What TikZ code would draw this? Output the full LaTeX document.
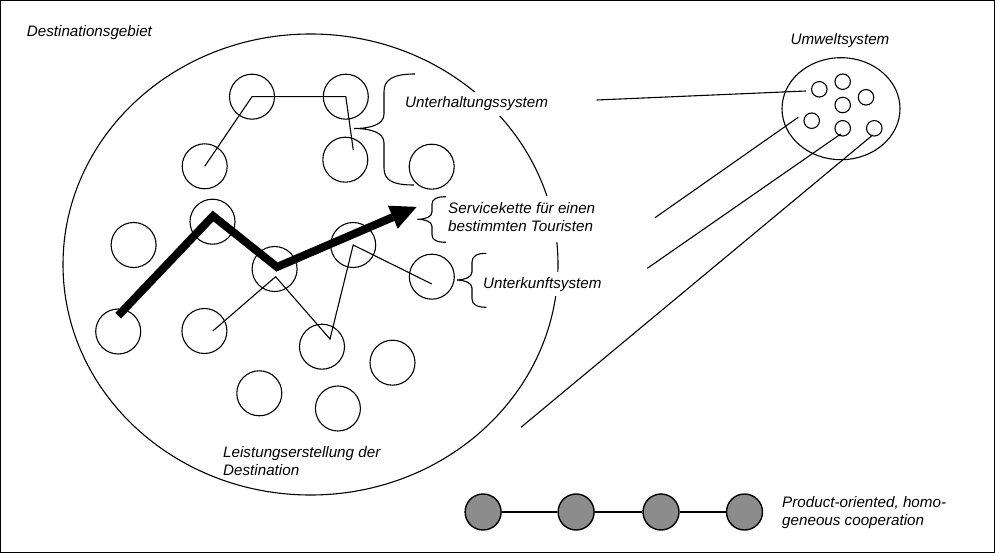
\documentclass[tikz,border=0pt]{standalone}
\usepackage{fontspec}
\setmainfont{Liberation Sans}
\usetikzlibrary{shapes.geometric,calc}
\definecolor{nodegray}{HTML}{8C8C8C}
\begin{document}
\begin{tikzpicture}[x=1pt,y=-1pt,
  txt/.style={font=\fontsize{15.2}{18}\selectfont\itshape, inner sep=0pt, anchor=base west},
  cover/.style={fill=white, inner xsep=0pt, inner ysep=5pt},
  sc/.style={circle, draw, line width=1.1pt, minimum size=45pt, inner sep=0pt},
  uc/.style={circle, draw, line width=1.1pt, minimum size=15.5pt, inner sep=0pt},
  gc/.style={circle, draw, fill=nodegray, line width=1.4pt, minimum size=36pt, inner sep=0pt},
  ln/.style={line width=1.1pt},
  bigell/.style={ellipse, draw, line width=1.1pt, inner sep=0pt},
  bracepath/.style={line width=1.1pt},
  thickarrow/.style={line width=8pt, line join=miter},
]
\useasboundingbox (0,0) rectangle (995,553);
\draw[line width=1.3pt] (0.65,0.65) rectangle (994.35,552.35);

% big destination ellipse
\node[bigell, minimum width=495pt, minimum height=461pt] (dest) at (310.5,264.5) {};
% environment ellipse
\node[bigell, minimum width=118pt, minimum height=102pt] (umw) at (841,108.7) {};

% labels
\node[txt] (lDest) at (26.7,36.7) {Destinationsgebiet};
\node[txt,cover] (lUnt) at (405,108) {Unterhaltungssystem};
\node[txt,cover] (lServ) at (448,214) {\begin{tabular}[t]{@{}l@{}}\itshape Servicekette für einen\\\itshape bestimmten Touristen\end{tabular}};
\node[txt,cover] (lUnk) at (483,288.3) {Unterkunftsystem};
\node[txt] (lLeist) at (223,457) {\begin{tabular}[t]{@{}l@{}}\itshape Leistungserstellung der\\\itshape Destination\end{tabular}};
\node[txt, anchor=base] (lUmw) at (840,44.2) {Umweltsystem};
\node[txt] (lProd) at (782,507.5) {\begin{tabular}[t]{@{}l@{}}\itshape Product-oriented, homo-\\\itshape geneous cooperation\end{tabular}};

% braces
\draw[bracepath] (415,74) .. controls (392,74) and (384,80) .. (384,92) -- (384,114)
  .. controls (384,124) and (372,128.5) .. (354,128.5)
  .. controls (372,128.5) and (384,133) .. (384,143) -- (384,168)
  .. controls (384,180) and (392,185) .. (414,185);
\draw[bracepath] (446,196.7) .. controls (437,196.7) and (432,199) .. (432,204) -- (432,212)
  .. controls (432,217) and (425,219.3) .. (417.5,219.3)
  .. controls (425,219.3) and (432,221.5) .. (432,226.5) -- (432,235)
  .. controls (432,240) and (437,242.3) .. (446,242.3);
\draw[bracepath] (486.4,253.3) .. controls (477,253.3) and (472,256) .. (472,262) -- (472,272)
  .. controls (472,277.5) and (464,280) .. (456.8,280)
  .. controls (464,280) and (472,282.5) .. (472,288) -- (472,299)
  .. controls (472,304.5) and (477,307.3) .. (486.4,307.3);

% service circles
\node[sc] (c1) at (252,96.7) {};
\node[sc] (c2) at (345.8,96.7) {};
\node[sc] (c3) at (204.7,166.3) {};
\node[sc] (c4) at (345.3,159.7) {};
\node[sc] (c5) at (431.7,166.7) {};
\node[sc] (c6) at (212.5,221.7) {};
\node[sc] (c7) at (133.6,245) {};
\node[sc] (c8) at (274.6,269) {};
\node[sc] (c9) at (353.2,245) {};
\node[sc] (c10) at (431.8,276.7) {};
\node[sc] (c11) at (118.2,331.5) {};
\node[sc] (c12) at (204.4,331) {};
\node[sc] (c13) at (322,346.7) {};
\node[sc] (c14) at (392.5,362.7) {};
\node[sc] (c15) at (259.3,393.3) {};
\node[sc] (c16) at (337.9,408.5) {};

% thin chains
\draw[ln] (c3.center) -- (c1.center) -- (c2.center) -- ($(c4.center)+(8,-9.5)$);
\draw[ln] ($(c12.center)+(8.4,0)$) -- ($(c8.center)+(1,7.7)$) -- ($(c13.center)+(8,-7.7)$)
  -- (c9.center) -- ($(c10.center)+(0,7.3)$);

% thick service chain arrow
\coordinate (aS) at ($(c11.center)+(0,-15.8)$);
\coordinate (aP) at ($(c6.center)+(0.5,-5.7)$);
\coordinate (aV) at ($(c8.center)+(2.4,-2)$);
\coordinate (aB) at (392.8,217.2);
\coordinate (aT) at (416.7,206.9);
\coordinate (aL) at (387.9,205.7);
\coordinate (aR) at (397.7,228.7);
\draw[thickarrow] (aS) -- (aP) -- (aV) -- (aB);
\fill (aT) -- (aL) -- (aR) -- cycle;

% environment circles
\node[uc] (u1) at (819.3,89.3) {};
\node[uc] (u2) at (842.7,81.7) {};
\node[uc] (u3) at (866,97.3) {};
\node[uc] (u4) at (842.7,105) {};
\node[uc] (u5) at (811.7,120.7) {};
\node[uc] (u6) at (842.7,128.3) {};
\node[uc] (u7) at (874.3,128.3) {};

\coordinate (e1) at (596.7,100);
\coordinate (e2) at (655,217.7);
\coordinate (e3) at (647.3,268.3);
\coordinate (e4) at (521,427.3);
\draw[ln] (e1) -- ($(u1.center)+(-13.3,1.7)$);
\draw[ln] (e2) -- ($(u5.center)+(-13.4,-3.4)$);
\draw[ln] (e3) -- ($(u6.center)+(-2,5.7)$);
\draw[ln] (e4) -- ($(u7.center)+(-1.6,6.7)$);

% cooperation chain
\node[gc] (g1) at (483.1,512) {};
\node[gc] (g2) at (576.1,512) {};
\node[gc] (g3) at (661,512) {};
\node[gc] (g4) at (744.5,512) {};
\draw[line width=1.3pt] (g1) -- (g2) -- (g3) -- (g4);
\end{tikzpicture}
\end{document}
